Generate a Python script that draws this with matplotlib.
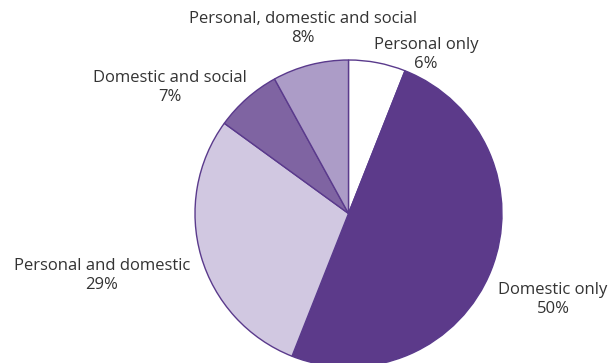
import matplotlib.pyplot as plt

plt.rcParams["font.family"] = ["Open Sans", "DejaVu Sans"]

# household responsibilities, clockwise from 12 o'clock
categories = [
    "Personal only",
    "Domestic only",
    "Personal and domestic",
    "Domestic and social",
    "Personal, domestic and social",
]
shares = [6, 50, 29, 7, 8]
colours = ["#ffffff", "#5c3a8a", "#d1c8e1", "#7f64a2", "#ac9cc7"]

# label anchor points in pixel space (x, y of first line from top)
label_xy = [(426, 45), (553, 290), (102, 266), (170, 78), (303, 19)]

W, H = 612, 363
fig = plt.figure(figsize=(W / 100, H / 100), dpi=100)
ax = fig.add_axes([0, 0, 1, 1])

cx, cy, r = 348.5, 213.5, 153.5
ax.pie(
    shares,
    colors=colours,
    startangle=90,
    counterclock=False,
    center=(cx, H - cy),
    radius=r,
    wedgeprops=dict(edgecolor="#5a3a8c", linewidth=1.0),
)
ax.set_xlim(0, W)
ax.set_ylim(0, H)
ax.set_aspect("equal")
ax.axis("off")

# name and percentage as two separate lines
for name, val, (x, y) in zip(categories, shares, label_xy):
    ax.text(x, H - y, name, ha="center", va="center",
            fontsize=12, color="#333333")
    ax.text(x, H - y - 19, "%d%%" % val, ha="center", va="center",
            fontsize=12, color="#333333")

fig.savefig("out.png", dpi=100)
